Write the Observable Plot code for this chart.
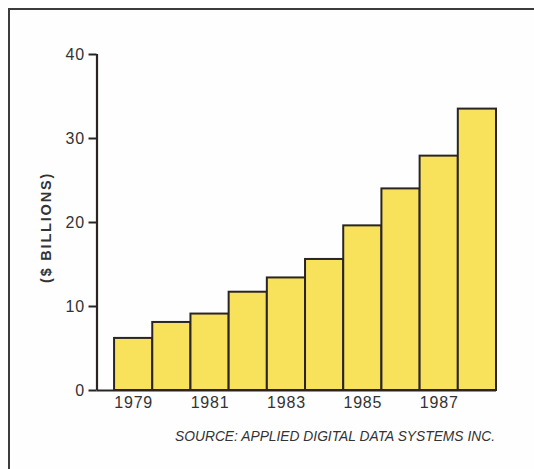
<!DOCTYPE html>
<html><head><meta charset="utf-8">
<script src="https://cdn.jsdelivr.net/npm/d3@7"></script>
<script src="https://cdn.jsdelivr.net/npm/@observablehq/plot@0.6"></script>
<style>
html,body{margin:0;padding:0;background:#fff;}
#wrap{position:relative;width:534px;height:469px;overflow:hidden;background:#fefefe;font-family:"Liberation Sans",Arial,sans-serif;}
#frame{position:absolute;left:8px;top:8px;width:600px;height:600px;border:2.5px solid #3b3b3b;box-sizing:border-box;}
#chart{position:absolute;left:0;top:0;}
#source{position:absolute;right:39px;top:430px;font-style:italic;font-size:13.8px;line-height:14px;color:#333;white-space:nowrap;}
</style></head>
<body><div id="wrap"><div id="frame"></div><div id="chart"></div><div id="source"></div></div>
<script>
const years = [1979, 1980, 1981, 1982, 1983, 1984, 1985, 1986, 1987, 1988];
const values = [6.2, 8.1, 9.1, 11.7, 13.4, 15.6, 19.6, 24.0, 27.9, 33.5];
const xTickLabels = [1979, 1981, 1983, 1985, 1987];
const yTicks = [0, 10, 20, 30, 40];
const yLabel = "($ BILLIONS)";
const sourceText = "SOURCE: APPLIED DIGITAL DATA SYSTEMS INC.";

const data = years.map((year, i) => ({year, value: values[i]}));
const xDomain = [1978.04, 1988.5];
const ink = "#2b2424";

const chart = Plot.plot({
  width: 534, height: 420,
  marginLeft: 96.5, marginRight: 38, marginTop: 54, marginBottom: 30,
  style: {fontFamily: "'Liberation Sans', Arial, sans-serif", fontSize: "16px", color: "#333", background: "transparent", letterSpacing: "0.8px"},
  x: {domain: xDomain},
  y: {domain: [0, 40]},
  marks: [
    Plot.rectY(data, {x1: d => d.year - 0.5, x2: d => d.year + 0.5, y: "value", fill: "#f8e25c", stroke: ink, strokeWidth: 2}),
    Plot.ruleY([0], {stroke: ink, strokeWidth: 2.2}),
    Plot.ruleX([xDomain[0]], {y1: 0, y2: 40, stroke: ink, strokeWidth: 2.2}),
    Plot.axisY({ticks: yTicks, tickSize: 8, tickPadding: 4, label: null, stroke: ink, strokeWidth: 2, fill: "#333"}),
    Plot.axisX({ticks: xTickLabels, tickSize: 0, tickPadding: 6, tickFormat: d => String(d), label: null, fill: "#333"}),
    Plot.text([yLabel], {frameAnchor: "left", textAnchor: "middle", rotate: -90, dx: -50.5, dy: 5, fontWeight: "bold", fontSize: 14.5, fill: "#333"})
  ]
});
chart.querySelectorAll("text").forEach(t => { if (t.textContent === yLabel) t.style.letterSpacing = "1.8px"; });
document.getElementById("chart").appendChild(chart);
document.getElementById("source").textContent = sourceText;
</script>
</body></html>
